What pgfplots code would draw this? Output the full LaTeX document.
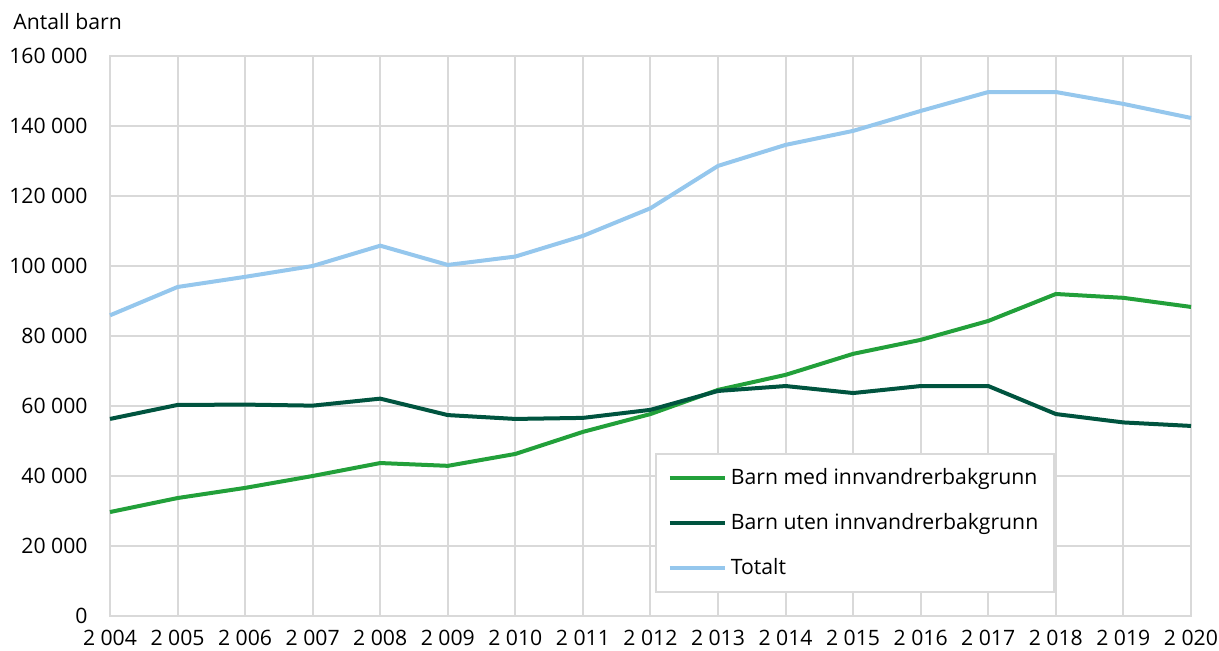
\documentclass[border=0pt]{standalone}
\usepackage{fontspec}
\setmainfont{Open Sans}
\usepackage{pgfplots}
\pgfplotsset{compat=1.18}
\definecolor{gmed}{HTML}{22A03A}
\definecolor{guten}{HTML}{00543F}
\definecolor{tot}{HTML}{95C7ED}
\definecolor{gridc}{HTML}{D9D9D9}
\begin{document}
\fontsize{10.6}{12.5}\selectfont
\begin{tikzpicture}
\begin{axis}[
  name=ax,
  scale only axis, width=540.5pt, height=280pt,
  xmin=2004, xmax=2020, ymin=0, ymax=160000,
  scaled y ticks=false, scaled x ticks=false,
  xtick={2004,...,2020},
  xticklabels={2 004,2 005,2 006,2 007,2 008,2 009,2 010,2 011,2 012,2 013,2 014,2 015,2 016,2 017,2 018,2 019,2 020},
  ytick={0,20000,...,160000},
  yticklabels={0,20 000,40 000,60 000,80 000,100 000,120 000,140 000,160 000},
  grid=major, major grid style={gridc, line width=1pt},
  axis line style={gridc, line width=1pt},
  tick style={draw=none},
  tick label style={font=\fontsize{10.6}{12.5}\selectfont},
  xticklabel style={yshift=-3.5pt},
  yticklabel style={xshift=-7.5pt},
  legend style={at={(rel axis cs:0.504,0.041)}, anchor=south west, draw=gridc, line width=1pt,
    font=\fontsize{10.6}{12.5}\selectfont, row sep=9pt, inner xsep=6pt, inner ysep=5pt},
  legend cell align=left,
  legend image code/.code={\draw[#1, line width=2pt] (0cm,0cm) -- (27.5pt,0cm);},
  clip=false,
]
\addplot[gmed, line width=2pt] coordinates {
(2004,29700) (2005,33700) (2006,36600) (2007,40000) (2008,43700) (2009,42900) (2010,46300) (2011,52600) (2012,57700) (2013,64600) (2014,68900) (2015,74900) (2016,78900) (2017,84300) (2018,92000) (2019,90900) (2020,88300)};
\addlegendentry{Barn med innvandrerbakgrunn}
\addplot[guten, line width=2pt] coordinates {
(2004,56300) (2005,60300) (2006,60400) (2007,60100) (2008,62100) (2009,57400) (2010,56300) (2011,56600) (2012,58900) (2013,64300) (2014,65700) (2015,63700) (2016,65700) (2017,65700) (2018,57700) (2019,55300) (2020,54300)};
\addlegendentry{Barn uten innvandrerbakgrunn}
\addplot[tot, line width=2pt] coordinates {
(2004,85900) (2005,94000) (2006,96900) (2007,100000) (2008,105800) (2009,100300) (2010,102700) (2011,108600) (2012,116500) (2013,128600) (2014,134600) (2015,138600) (2016,144300) (2017,149700) (2018,149700) (2019,146300) (2020,142300)};
\addlegendentry{Totalt}
\node[anchor=west, inner sep=0pt] at ([xshift=-48.5pt, yshift=17pt]rel axis cs:0,1) {Antall barn};
\end{axis}
\pgfresetboundingbox
\path ([xshift=-55pt,yshift=28pt]ax.north west) rectangle ([xshift=14pt,yshift=-17.5pt]ax.south east);
\end{tikzpicture}
\end{document}
